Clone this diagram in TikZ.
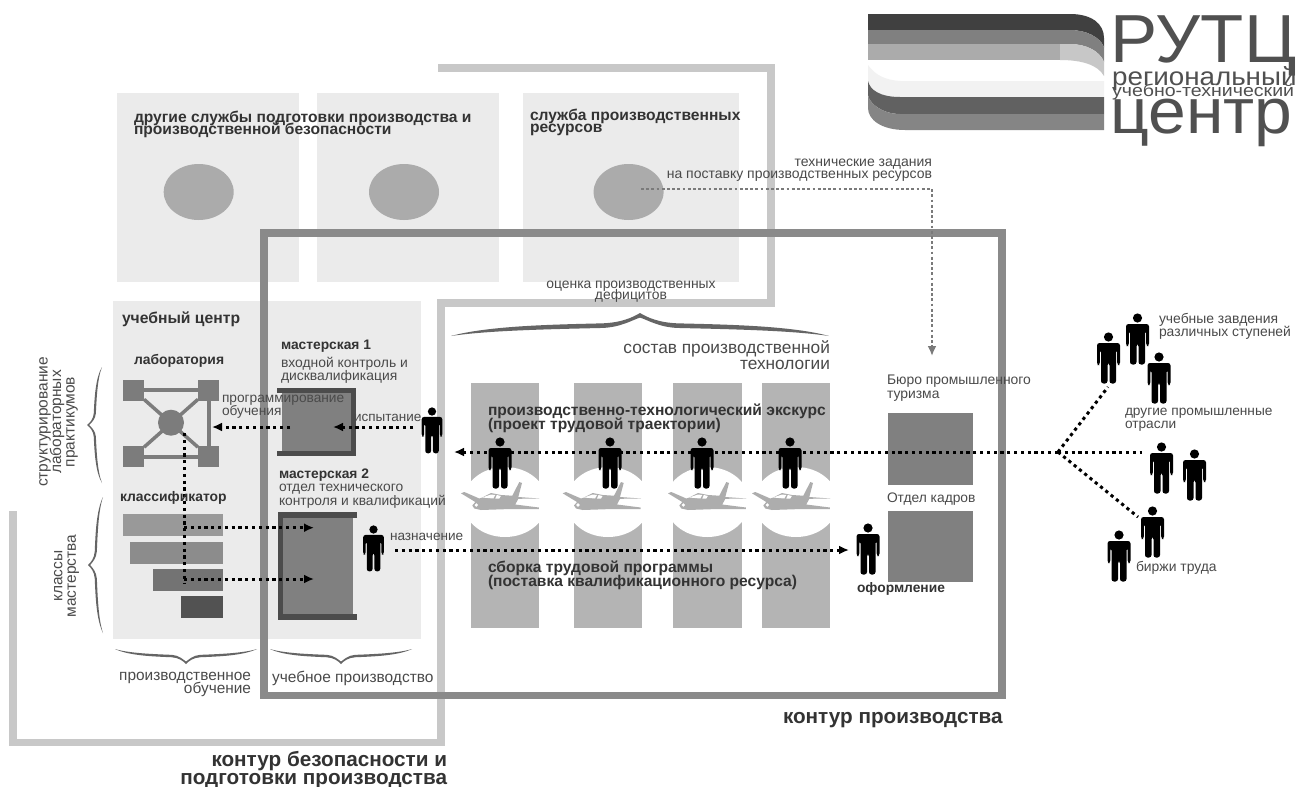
\documentclass[tikz,border=0pt]{standalone}
\usepackage{fontspec}
\setmainfont{Liberation Sans}
\usetikzlibrary{arrows.meta,shapes.geometric}
\definecolor{panel}{HTML}{EBEBEB}
\definecolor{lightline}{HTML}{C8C8C8}
\definecolor{darkline}{HTML}{8A8A8A}
\definecolor{ell}{HTML}{ABABAB}
\definecolor{stripe}{HTML}{B4B4B4}
\definecolor{plane}{HTML}{ADADAD}
\definecolor{squares}{HTML}{7C7C7C}
\definecolor{txt}{HTML}{4A4A4A}
\definecolor{logotxt}{HTML}{505050}
\newcommand\rectnode[6]{\pgfmathsetmacro\rw{#4-#2}\pgfmathsetmacro\rh{#5-#3}%
  \node[fill=#6,inner sep=0pt,outer sep=0pt,minimum width=\rw pt,minimum height=\rh pt] (#1) at ({(#2+#4)/2},{(#3+#5)/2}) {};}
% calligraphic brace: tip x,y ; vector along ; vector towards the ends
\newcommand\cbrace[7]{\begin{scope}[shift={(#1,#2)},x={(#3pt,#4pt)},y={(#5pt,#6pt)}]
  \pgfmathsetmacro\tk{#7}
  \fill[txt!85] (-1,1) .. controls (-.8,.55) and (-.45,.5) .. (-.2,.45) .. controls (-.1,.42) and (-.04,.2) .. (0,0)
    .. controls (.04,.2) and (.1,.42) .. (.2,.45) .. controls (.45,.5) and (.8,.55) .. (1,1)
    .. controls (.8,.55+\tk) and (.45,.5+\tk) .. (.2,.45+\tk) .. controls (.1,.42+\tk) and (.04,.3) .. (0,\tk)
    .. controls (-.04,.3) and (-.1,.42+\tk) .. (-.2,.45+\tk) .. controls (-.45,.5+\tk) and (-.8,.55+\tk) .. (-1,1) -- cycle;
\end{scope}}
\tikzset{
  x=1pt,y=-1pt,
  personpic/.pic={
    \fill[black] (0,5) circle (4.6);
    \fill[black,rounded corners=2.5] (-11.5,33) -- (-11.5,11) -- (11.5,11) -- (11.5,33) -- (8.7,33) -- (8.7,18) -- (7.5,18)
      -- (7.5,51.5) -- (1,51.5) -- (1,31) -- (-1,31) -- (-1,51.5) -- (-7.5,51.5) -- (-7.5,18) -- (-8.7,18) -- (-8.7,33) -- cycle;
  },
  planepic/.pic={
    \fill[plane] (0.7,10.3) -- (4,9) -- (19,15.5) -- (22,14.5) -- (30.7,10) -- (40.7,12) -- (52,12.7) -- (59,-1) -- (61.7,0) -- (58,14)
      -- (79,15.5) -- (58,15.8) -- (55,21.5) -- (78.5,24.5) -- (78.5,26) -- (50.7,26) -- (20.7,27) -- (14,25.5) -- (12,22.5) -- (15,19) -- cycle;
    \fill[white] (22,14.5) -- (30.7,11.5) -- (35,12) -- (33,15.5) -- cycle;
    \fill[white] (36.5,12) -- (40.5,13) -- (39,15.5) -- (35,15.5) -- cycle;
    \fill[white] (16,22) circle (1.8);
  },
  lbl/.style={inner sep=0pt,outer sep=0pt,text=txt,align=left,anchor=west},
  lblr/.style={lbl,align=right,anchor=east},
  lblc/.style={lbl,align=center,anchor=center},
  hd/.style={text=black!80},
  dotline/.style={line width=3pt,dash pattern=on 3.2pt off 3.6pt,black},
  grayline/.style={line width=2.8pt,dash pattern=on 2.8pt off 2.4pt,black!52},
  tip/.style={-{Latex[length=10pt,width=9pt]}},
  contourl/.style={draw=lightline,line width=7.5pt},
  contourd/.style={draw=darkline,line width=7.5pt},
  labsq/.style={fill=squares,inner sep=0pt,outer sep=0pt,minimum size=21pt},
  oval/.style={ellipse,fill=ell,inner sep=0pt,outer sep=0pt,minimum width=70pt,minimum height=56pt},
  hole/.style={ellipse,fill=white,inner sep=0pt,outer sep=0pt,minimum width=84pt,minimum height=70pt},
  logot/.style={inner sep=0pt,text=logotxt,anchor=base west},
}
\newcommand\fs[2]{\fontsize{#1}{#2}\selectfont\lineskiplimit=-60pt\relax}
\begin{document}
\begin{tikzpicture}
\useasboundingbox (0,0) rectangle (1296,787);
\fill[white] (0,0) rectangle (1296,787);

% panels
\rectnode{svcA}{116.5}{93}{298.7}{282}{panel}
\rectnode{svcB}{316.5}{93}{498.7}{282}{panel}
\rectnode{svcC}{522.8}{93}{739}{282}{panel}
\rectnode{centerbox}{112.7}{300.7}{420.7}{639}{panel}
\node[oval] (ovA) at (198.7,192) {};
\node[oval] (ovB) at (404,192) {};
\node[oval] (ovC) at (628.6,192) {};

% light contour
\draw[contourl] (438,68) -- (771,68) -- (771,303) -- (441,303) -- (441,742.5) -- (13,742.5) -- (13,511);

% stripes
\rectnode{stA}{471}{382.7}{539.3}{628}{stripe}
\rectnode{stB}{574}{382.7}{642}{628}{stripe}
\rectnode{stC}{673}{382.7}{741.7}{628}{stripe}
\rectnode{stD}{761.7}{382.7}{830}{628}{stripe}
\node[hole] (hA) at (505,502) {};
\node[hole] (hB) at (608,502) {};
\node[hole] (hC) at (707.3,502) {};
\node[hole] (hD) at (796,502) {};
\pic at (460.3,483) {planepic};
\pic at (562,483) {planepic};
\pic at (667.3,483) {planepic};
\pic at (751.3,483) {planepic};

% dark contour
\draw[contourd] (264,233) rectangle (1002,695.5);

% laboratory
\node[labsq] (sa) at (133.5,390) {};
\node[labsq] (sb) at (208.5,390) {};
\node[labsq] (sc) at (133.5,456.5) {};
\node[labsq] (sd) at (208.5,456.5) {};
\node[circle,fill=squares,inner sep=0pt,outer sep=0pt,minimum size=26pt] (hub) at (171,422.7) {};
\draw[squares,line width=4pt] (sa) -- (sb) -- (sd) -- (sc) -- cycle;
\draw[squares,line width=3.5pt] (sa) -- (sd) (sb) -- (sc);

% classifier
\rectnode{cA}{123}{514}{222.7}{536}{black!40}
\rectnode{cB}{130}{541.7}{222.7}{564}{black!45}
\rectnode{cC}{153}{568.7}{222.7}{590.7}{black!55}
\rectnode{cD}{181}{596}{222.7}{618}{black!68}

% workshops
\rectnode{wsA}{281.7}{393}{351.7}{451.7}{black!50}
\draw[black!70,line width=5pt] (277,390.5) -- (353,390.5) -- (353,453.5) -- (277,453.5);
\rectnode{wsB}{283}{518}{353}{614}{black!50}
\draw[black!70,line width=5.5pt] (357,515) -- (280.7,515) -- (280.7,617) -- (357,617);

% right squares
\rectnode{bureau}{888}{413}{972.7}{485}{black!50}
\rectnode{hr}{888}{511}{972.7}{582}{black!50}

% braces
\cbrace{640}{313}{189}{0}{0}{-23}{.2}
\cbrace{87}{425}{0}{58}{15}{0}{.14}
\cbrace{88}{565}{0}{68}{15}{0}{.14}
\cbrace{186}{664}{71}{0}{0}{15}{.16}
\cbrace{341}{664}{71}{0}{0}{15}{.16}

% people
\pic[scale=.9] at (432,407) {personpic};
\pic[scale=.9] at (373.5,525) {personpic};
\pic at (500,437) {personpic};
\pic at (610,437) {personpic};
\pic at (702,437) {personpic};
\pic at (790,437) {personpic};
\pic at (868,523) {personpic};
\pic at (1108.5,332) {personpic};
\pic at (1137.5,313) {personpic};
\pic at (1159,352) {personpic};
\pic at (1161.5,442) {personpic};
\pic at (1194.5,449) {personpic};
\pic at (1152.5,506) {personpic};
\pic at (1119,530) {personpic};

% connector ends
\coordinate (gs) at (641,189);
\coordinate (gc) at (932,189);
\coordinate (ge) at (932,356);
\coordinate (fan) at (1058,452);
\coordinate (mainend) at (454,452);
\coordinate (fanA) at (1108,387);
\coordinate (fanB) at (1142,452);
\coordinate (fanC) at (1138,517);
\coordinate (tstS) at (413,427);
\coordinate (tstE) at (333,427);
\coordinate (prgS) at (290,427);
\coordinate (prgE) at (212,427);
\coordinate (vS) at (184,433);
\coordinate (vE) at (184,583);
\coordinate (hAs) at (184,527.7);
\coordinate (hAe) at (314,527.7);
\coordinate (hBs) at (184,579);
\coordinate (hBe) at (314,579);
\coordinate (asgS) at (395,550);
\coordinate (asgE) at (849,550);

\draw[grayline,tip] (gs) -- (gc) -- (ge);
\draw[dotline,tip] (fan) -- (mainend);
\draw[dotline] (fan) -- (fanA);
\draw[dotline] (fan) -- (fanB);
\draw[dotline] (fan) -- (fanC);
\draw[dotline,tip] (tstS) -- (tstE);
\draw[dotline,tip] (prgS) -- (prgE);
\draw[dotline] (vS) -- (vE);
\draw[dotline,tip] (hAs) -- (hAe);
\draw[dotline,tip] (hBs) -- (hBe);
\draw[dotline,tip] (asgS) -- (asgE);

% texts
\node[lbl,hd,font=\fs{15.6}{12.2}\bfseries] (tA) at (134,124) {другие службы подготовки производства и\\производственной безопасности};
\node[lbl,hd,font=\fs{15.6}{12.2}\bfseries] (tB) at (530,122) {служба производственных\\ресурсов};
\node[lblr,font=\fs{14}{12}] (tC) at (932,170) {технические задания\\на поставку производственных ресурсов};
\node[lblc,font=\fs{13.9}{11}] (tD) at (631,292) {оценка производственных\\дефицитов};
\node[lbl,hd,font=\fs{15.7}{14}\bfseries] (tE) at (122,319) {учебный центр};
\node[lbl,hd,font=\fs{13.9}{13}\bfseries] (tF) at (134,361) {лаборатория};
\node[lbl,hd,font=\fs{13.8}{13}\bfseries] (tG) at (281,346) {мастерская 1};
\node[lbl,font=\fs{13.9}{13}] (tH) at (281,370.5) {входной контроль и\\дисквалификация};
\node[lbl,font=\fs{13.7}{13}] (tI) at (222,407) {программирование\\обучения};
\node[lbl,font=\fs{13.5}{13}] (tJ) at (354,418) {испытание};
\node[lbl,hd,font=\fs{13.9}{13}\bfseries] (tK) at (120,498) {классификатор};
\node[lbl,hd,font=\fs{13.8}{13}\bfseries] (tL) at (279,475) {мастерская 2};
\node[lbl,font=\fs{13.8}{13.5}] (tM) at (279,496) {отдел технического\\контроля и квалификаций};
\node[lbl,font=\fs{13.6}{13}] (tN) at (390,537) {назначение};
\node[lblc,rotate=90,font=\fs{15.5}{13.5}] (tO) at (58.5,422) {структурирование\\лабораторных\\практикумов};
\node[lblc,rotate=90,font=\fs{15.5}{13.5}] (tP) at (66.5,576) {классы\\мастерства};
\node[lblr,font=\fs{17.3}{16}] (tQ) at (830,355) {состав производственной\\технологии};
\node[lbl,hd,font=\fs{15.6}{14}\bfseries] (tR) at (488,418) {производственно-технологический экскурс\\(проект трудовой траектории)};
\node[lbl,hd,font=\fs{15.6}{14}\bfseries] (tS) at (488,575) {сборка трудовой программы\\(поставка квалификационного ресурса)};
\node[lbl,font=\fs{13.9}{14}] (tT) at (887,388) {Бюро промышленного\\туризма};
\node[lbl,font=\fs{13.8}{13}] (tU) at (887,499) {Отдел кадров};
\node[lbl,hd,font=\fs{13.8}{13}\bfseries] (tV) at (857,589) {оформление};
\node[lbl,hd,font=\fs{20.7}{17}\bfseries] (tW) at (783,720) {контур производства};
\node[lblr,hd,font=\fs{20.7}{18}\bfseries] (tX) at (447,770) {контур безопасности и\\подготовки производства};
\node[lblr,font=\fs{15.4}{13}] (tY) at (251,684.5) {производственное\\обучение};
\node[lbl,font=\fs{15.5}{13}] (tZ) at (272,678) {учебное производство};
\node[lbl,font=\fs{13.9}{13}] (uA) at (1159,326.5) {учебные завдения\\различных ступеней};
\node[lbl,font=\fs{13.7}{13}] (uB) at (1125,419.5) {другие промышленные\\отрасли};
\node[lbl,font=\fs{13.9}{13}] (uC) at (1136,568) {биржи труда};

% logo
\fill[black!75] (868,14) -- (1070,14) .. controls (1092,14) and (1104,24) .. (1104,38) -- (1104,47) .. controls (1100,37) and (1086,30) .. (1070,30) -- (868,30) -- cycle;
\fill[black!50] (868,30) -- (1070,30) .. controls (1086,30) and (1100,37) .. (1104,47) -- (1104,62) .. controls (1100,51) and (1086,44) .. (1070,44) -- (868,44) -- cycle;
\fill[black!33] (868,44) -- (1060,44) -- (1060,60) -- (868,60) -- cycle;
\fill[black!22] (1060,44) -- (1070,44) .. controls (1086,44) and (1100,51) .. (1104,62) -- (1104,76) .. controls (1098,65) and (1082,60) .. (1060,60) -- cycle;
\fill[black!5] (868,65) .. controls (875,75) and (885,80) .. (900,81) -- (1104,81) -- (1104,97) -- (900,97) .. controls (880,97) and (870,90) .. (868,81) -- cycle;
\fill[black!62] (868,81) .. controls (870,90) and (880,97) .. (900,97) -- (1104,97) -- (1104,114) -- (900,114) .. controls (882,114) and (869,103) .. (868,95) -- cycle;
\fill[black!48] (868,95) .. controls (869,103) and (882,114) .. (900,114) -- (1104,114) -- (1104,130) -- (905,130) .. controls (882,130) and (868,120) .. (868,108) -- cycle;
\node[logot,font=\fs{68}{68}] (lgA) at (1110,62) {\scalebox{1.04}[1]{РУТЦ}};
\node[logot,font=\fs{25.5}{26}] (lgB) at (1112,85) {\scalebox{1.09}[1]{региональный}};
\node[logot,font=\fs{17}{17}] (lgC) at (1112,96.5) {\scalebox{1.15}[1]{учебно-технический}};
\node[logot,font=\fs{64}{64}] (lgD) at (1110,133) {\scalebox{1.06}[1]{центр}};
\end{tikzpicture}
\end{document}
